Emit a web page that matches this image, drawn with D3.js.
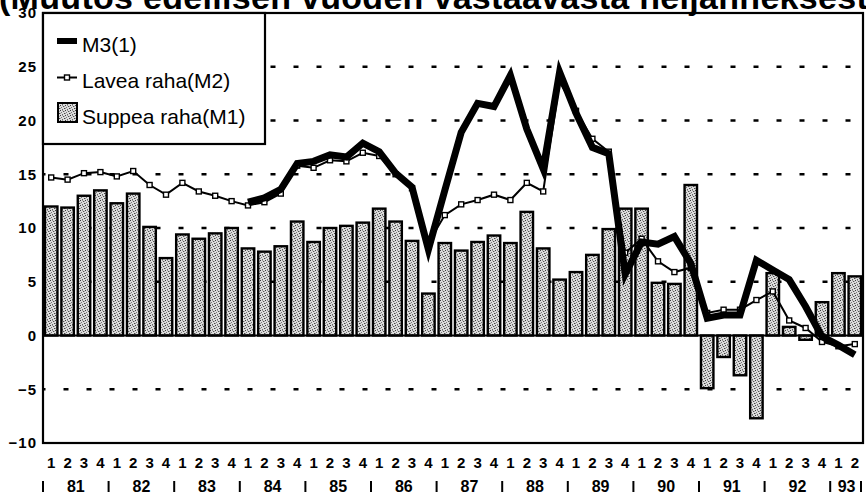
<!DOCTYPE html>
<html>
<head>
<meta charset="utf-8">
<script src="https://cdn.jsdelivr.net/npm/d3@7/dist/d3.min.js"></script>
<style>
  html, body { margin: 0; padding: 0; background: #fff; }
  svg { display: block; }
  text { font-family: "Liberation Sans", Arial, Helvetica, sans-serif; fill: #000; }
</style>
</head>
<body>
<svg id="chart" width="866" height="496"></svg>
<script>
// ---------------- DATA ----------------
const years = ["81","82","83","84","85","86","87","88","89","90","91","92","93"];
const quarterLabels = ["1","2","3","4"];
// 1981Q1 .. 1993Q2
const categories = years.flatMap(y => quarterLabels.map(q => y + "Q" + q)).slice(0, 50);

// Suppea raha (M1) – bars
const m1 = [12.0, 11.9, 13.0, 13.5, 12.3, 13.2, 10.1, 7.2,
            9.4, 9.0, 9.5, 10.0, 8.1, 7.8, 8.3, 10.6,
            8.7, 10.0, 10.2, 10.5, 11.8, 10.6, 8.8, 3.9,
            8.6, 7.9, 8.7, 9.3, 8.6, 11.5, 8.1, 5.2,
            5.9, 7.5, 9.9, 11.8, 11.8, 4.9, 4.8, 14.0,
            -4.9, -2.0, -3.7, -7.7, 5.8, 0.8, -0.4, 3.1,
            5.8, 5.5];

// Lavea raha (M2) – thin line with markers
const m2 = [14.7, 14.5, 15.1, 15.2, 14.8, 15.3, 14.0, 13.1,
            14.2, 13.4, 13.0, 12.5, 12.1, 12.4, 13.2, 15.8,
            15.6, 16.3, 16.2, 17.0, 16.7, 15.0, 13.7, 8.6,
            11.2, 12.2, 12.6, 13.1, 12.6, 14.2, 13.4, 23.6,
            20.9, 18.3, 17.1, 7.7, 9.0, 6.9, 5.9, 6.3,
            2.1, 2.4, 2.4, 3.3, 4.1, 1.4, 0.7, -0.6,
            -1.0, -0.8];

// M3(1) – thick line (from 1984Q1)
const m3 = [null, null, null, null, null, null, null, null,
            null, null, null, null, 12.4, 12.8, 13.6, 16.0,
            16.2, 16.8, 16.6, 17.9, 17.1, 15.1, 13.8, 8.0,
            13.5, 18.9, 21.6, 21.3, 24.2, 19.2, 15.5, 24.5,
            20.7, 17.5, 16.9, 5.7, 8.7, 8.5, 9.2, 6.7,
            1.6, 1.9, 1.9, 7.0, 6.1, 5.2, 2.7, -0.1,
            -0.9, -1.8];

const yTicks = [30, 25, 20, 15, 10, 5, 0, -5, -10];
const gridValues = [25, 20, 15, 10, 5, -5];
const titleText = "(Muutos edellisen vuoden vastaavasta neljänneksestä, %)";
const legendLabels = ["M3(1)", "Lavea raha(M2)", "Suppea raha(M1)"];

// ---------------- CHART ----------------
const svg = d3.select("#chart");
const L = 43, R = 863, T = 13, B = 443;

const x = d3.scaleBand().domain(categories).range([L, R]).paddingInner(0.24).paddingOuter(0.12);
const y = d3.scaleLinear().domain([-10, 30]).range([B, T]);
const cx = c => x(c) + x.bandwidth() / 2;

// stipple pattern for bars
const defs = svg.append("defs");
const pat = defs.append("pattern").attr("id", "stip")
  .attr("width", 5).attr("height", 5).attr("patternUnits", "userSpaceOnUse");
pat.append("rect").attr("width", 5).attr("height", 5).attr("fill", "#dcdcdc");
[[0,0,"#3a3a3a"],[3,1,"#555"],[1,2,"#777"],[4,3,"#444"],[2,4,"#666"],[2,0,"#999"],[0,3,"#999"],[4,1,"#aaa"]]
  .forEach(([px, py, col]) => pat.append("rect").attr("x", px).attr("y", py)
    .attr("width", 1).attr("height", 1).attr("fill", col));

// cropped title at top
svg.append("text").attr("x", -1).attr("y", 9)
  .attr("font-size", 34).attr("font-weight", "bold").attr("letter-spacing", 0.3)
  .text(titleText);

// gridlines
svg.append("g").selectAll("line").data(gridValues).join("line")
  .attr("x1", L).attr("x2", R)
  .attr("y1", d => y(d)).attr("y2", d => y(d))
  .attr("stroke", "#000").attr("stroke-width", 2.5)
  .attr("stroke-dasharray", "5 18").attr("stroke-dashoffset", 2.5);

// bars
svg.append("g").selectAll("rect").data(categories).join("rect")
  .attr("x", c => x(c))
  .attr("width", x.bandwidth())
  .attr("y", (c, i) => y(Math.max(0, m1[i])))
  .attr("height", (c, i) => Math.abs(y(m1[i]) - y(0)))
  .attr("fill", "url(#stip)")
  .attr("stroke", "#000").attr("stroke-width", 2.4);

// zero line
svg.append("line").attr("x1", L).attr("x2", R).attr("y1", y(0)).attr("y2", y(0))
  .attr("stroke", "#000").attr("stroke-width", 2.2);

// M2 line
const lineGen = d3.line().defined(d => d.v != null).x(d => cx(d.c)).y(d => y(d.v));
const m2Data = categories.map((c, i) => ({c, v: m2[i]}));
svg.append("path").datum(m2Data).attr("d", lineGen)
  .attr("fill", "none").attr("stroke", "#000").attr("stroke-width", 2);
svg.append("g").selectAll("rect").data(m2Data).join("rect")
  .attr("x", d => cx(d.c) - 2.5).attr("y", d => y(d.v) - 2.5)
  .attr("width", 5).attr("height", 5)
  .attr("fill", "#fff").attr("stroke", "#000").attr("stroke-width", 1.4);

// M3 line
const m3Data = categories.map((c, i) => ({c, v: m3[i]}));
svg.append("path").datum(m3Data).attr("d", lineGen)
  .attr("fill", "none").attr("stroke", "#000").attr("stroke-width", 7)
  .attr("stroke-linejoin", "miter").attr("stroke-miterlimit", 4);

// frame
svg.append("rect").attr("x", L).attr("y", T).attr("width", R - L).attr("height", B - T)
  .attr("fill", "none").attr("stroke", "#000").attr("stroke-width", 2.2);

// legend
const lg = svg.append("g");
lg.append("rect").attr("x", L).attr("y", T).attr("width", 222).attr("height", 131)
  .attr("fill", "#fff").attr("stroke", "#000").attr("stroke-width", 2.2);
lg.append("line").attr("x1", 57).attr("x2", 77).attr("y1", 41).attr("y2", 41)
  .attr("stroke", "#000").attr("stroke-width", 6);
lg.append("line").attr("x1", 57).attr("x2", 77).attr("y1", 77.5).attr("y2", 77.5)
  .attr("stroke", "#000").attr("stroke-width", 2);
lg.append("rect").attr("x", 64.5).attr("y", 75).attr("width", 5).attr("height", 5)
  .attr("fill", "#fff").attr("stroke", "#000").attr("stroke-width", 1.4);
lg.append("rect").attr("x", 58).attr("y", 103).attr("width", 19).attr("height", 19)
  .attr("fill", "url(#stip)").attr("stroke", "#000").attr("stroke-width", 2);
lg.selectAll("text.lt").data(legendLabels).join("text").attr("class", "lt")
  .attr("x", 82).attr("y", (d, i) => [52, 88, 124][i])
  .attr("font-size", 21)
  .text(d => d);

// y axis labels
const yAxis = svg.append("g").attr("transform", `translate(${L},0)`)
  .call(d3.axisLeft(y).tickValues(yTicks).tickSize(0).tickPadding(6).tickFormat(d3.format("d")));
yAxis.select(".domain").remove();
yAxis.selectAll("text").attr("font-size", 15).attr("font-weight", "bold")
  .attr("letter-spacing", 1).style("font-family", '"Liberation Sans", Arial, sans-serif');

// quarter labels
const xAxis = svg.append("g").attr("transform", `translate(0,${B})`)
  .call(d3.axisBottom(x).tickSize(0).tickPadding(14.5)
    .tickFormat(c => c.slice(c.indexOf("Q") + 1)));
xAxis.select(".domain").remove();
xAxis.selectAll("text").attr("font-size", 15).attr("font-weight", "bold")
  .style("font-family", '"Liberation Sans", Arial, sans-serif');

// year labels and separators
const step = x.step();
const yearInfo = years.map(yr => {
  const qs = categories.filter(c => c.startsWith(yr + "Q"));
  const start = x(qs[0]) - step * 0.12;
  const end = x(qs[qs.length - 1]) - step * 0.12 + step;
  return {yr, start, end};
});
svg.append("g").selectAll("text").data(yearInfo).join("text")
  .attr("x", d => (d.start + d.end) / 2).attr("y", 492)
  .attr("text-anchor", "middle").attr("font-size", 16).attr("font-weight", "bold")
  .text(d => d.yr);
const seps = [L, ...yearInfo.map(d => d.end)];
seps[seps.length - 1] = R - 2;
svg.append("g").selectAll("line").data(seps).join("line")
  .attr("x1", d => d).attr("x2", d => d).attr("y1", 481).attr("y2", 492)
  .attr("stroke", "#000").attr("stroke-width", 2);
</script>
</body>
</html>
